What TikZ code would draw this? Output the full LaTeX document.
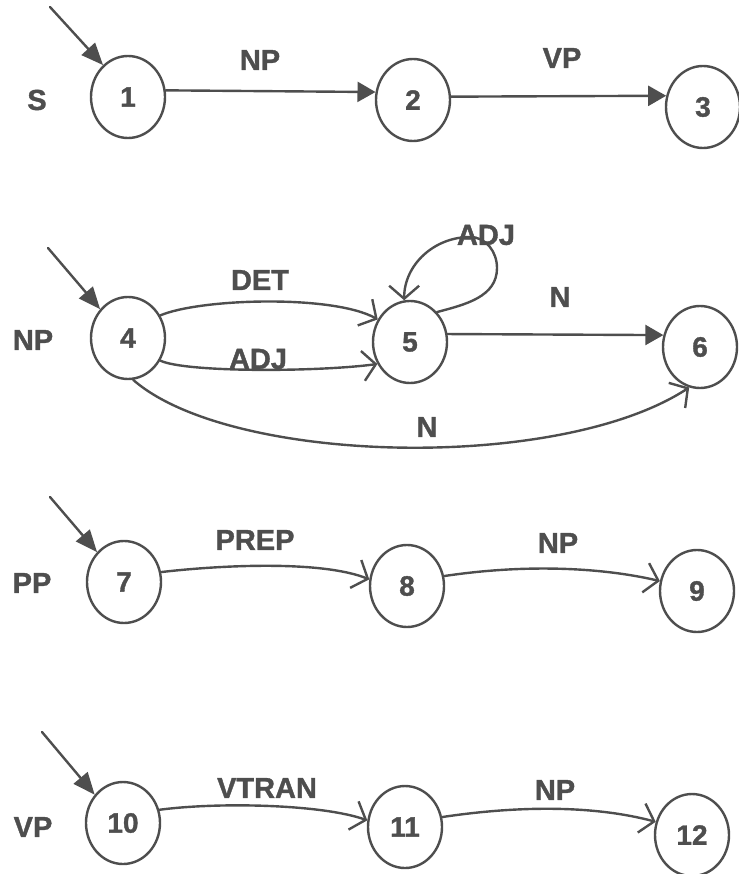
\documentclass[tikz,border=0pt]{standalone}
\usepackage{fontspec}
\setmainfont{Liberation Sans}[BoldFeatures={FakeBold=1.2}]
\usetikzlibrary{shapes.geometric,arrows.meta}
\definecolor{ink}{RGB}{78,78,78}
\begin{document}
\begin{tikzpicture}[x=1pt,y=-1pt,
  state/.style={ellipse, draw=ink, line width=2.4pt, minimum width=74pt,
    minimum height=82pt, inner sep=0pt, text=ink,
    font=\fontsize{28}{30}\selectfont\bfseries},
  lbl/.style={text=ink, font=\fontsize{29}{30}\selectfont\bfseries, inner sep=0pt},
  arc/.style={draw=ink, line width=2.4pt, line cap=round, line join=round},
  solidtip/.style={-{Triangle[length=18pt,width=20pt]}},
  entrytip/.style={-{Triangle[length=22pt,width=18pt]}},
  opentip/.style={-{Straight Barb[length=13pt,width=30pt]}}
]
\useasboundingbox (0,0) rectangle (738,874);

% ---- network S ----
\node[lbl] (lS) at (37,100) {S};
\node[state] (n1) at (128,97) {1};
\node[state] (n2) at (413,100) {2};
\node[state] (n3) at (703,107) {3};
\coordinate (e1) at (50,7);
\draw[arc,entrytip] (e1) -- (n1.128);
\draw[arc,solidtip] (n1.10) -- (n2.168);
\draw[arc,solidtip] (n2.5) -- (n3.163);
\node[lbl] (t12) at (260,60) {NP};
\node[lbl] (t23) at (562,58) {VP};

% ---- network NP ----
\node[lbl] (lNP) at (33,340) {NP};
\node[state] (n4) at (128,338) {4};
\node[state] (n5) at (410,342) {5};
\node[state] (n6) at (700,347) {6};
\coordinate (e4) at (48,248);
\draw[arc,entrytip] (e4) -- (n4.134);
\draw[arc,opentip] (n4.35) .. controls +(40,-17) and +(-45,-25) .. (n5.145);
\draw[arc,opentip] (n4.-35) .. controls +(25,12) and +(-60,8) .. (n5.214);
\draw[arc,opentip] (n4.-83) .. controls +(97,85) and +(-130,85) .. (n6.-105);
\draw[arc,solidtip] (n5.12) -- (n6.162);
\draw[arc,opentip] (n5.48) to[out=15, in=-90] (497,268)
  to[out=90, in=0] (470,237) to[out=180, in=90] (n5.98);
\node[lbl] (t45a) at (260,280) {DET};
\node[lbl] (t45b) at (258,359) {ADJ};
\node[lbl] (t55) at (486,235) {ADJ};
\node[lbl] (t56) at (560,297) {N};
\node[lbl] (t46) at (427,427) {N};

% ---- network PP ----
\node[lbl] (lPP) at (32,583) {PP};
\node[state] (n7) at (124,582) {7};
\node[state] (n8) at (407,586) {8};
\node[state] (n9) at (697,591) {9};
\coordinate (e7) at (50,497);
\draw[arc,entrytip] (e7) -- (n7.132);
\draw[arc,opentip] (n7.15) .. controls +(70,-8) and +(-45,-18) .. (n8.170);
\draw[arc,opentip] (n8.15) .. controls +(80,-12) and +(-60,-14) .. (n9.165);
\node[lbl] (t78) at (255,540) {PREP};
\node[lbl] (t89) at (558,543) {NP};

% ---- network VP ----
\node[lbl] (lVP) at (33,827) {VP};
\node[state] (n10) at (123,823) {10};
\node[state] (n11) at (405,827) {11};
\node[state] (n12) at (692,835) {12};
\coordinate (e10) at (42,732);
\draw[arc,entrytip] (e10) -- (n10.135);
\draw[arc,opentip] (n10.20) .. controls +(60,-8) and +(-45,-16) .. (n11.170);
\draw[arc,opentip] (n11.15) .. controls +(80,-12) and +(-60,-16) .. (n12.160);
\node[lbl] (t1011) at (267,788) {VTRAN};
\node[lbl] (t1112) at (555,790) {NP};
\end{tikzpicture}
\end{document}
